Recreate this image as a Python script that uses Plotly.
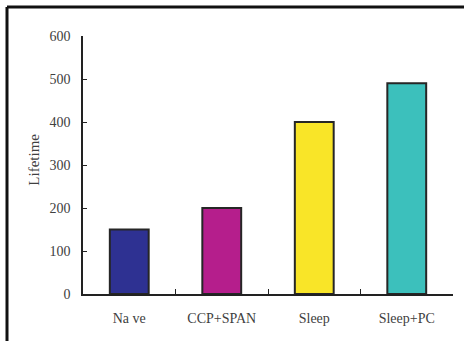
import plotly.graph_objects as go

categories = ["Na ve", "CCP+SPAN", "Sleep", "Sleep+PC"]
lifetime = [150, 200, 400, 490]
bar_colors = ["#2E3192", "#B51E8C", "#F9E528", "#3CC0BC"]
y_ticks = [0, 100, 200, 300, 400, 500, 600]

font_family = "Liberation Serif"
text_color = "#404040"

fig = go.Figure(
    go.Bar(
        x=categories,
        y=lifetime,
        width=0.42,
        marker=dict(color=bar_colors, line=dict(color="#262626", width=2)),
    )
)

fig.update_layout(
    width=464,
    height=341,
    margin=dict(l=83, r=11, t=36, b=47),
    paper_bgcolor="white",
    plot_bgcolor="white",
    showlegend=False,
    font=dict(family=font_family, size=14, color=text_color),
    xaxis=dict(
        showline=True,
        linecolor="#222",
        linewidth=1.5,
        ticks="inside",
        tickson="boundaries",
        ticklen=5,
        tickcolor="#222",
        tickwidth=1,
        showgrid=False,
        ticklabelstandoff=10,
    ),
    yaxis=dict(
        range=[0, 600],
        tickvals=y_ticks,
        showline=True,
        linecolor="#222",
        linewidth=1.5,
        ticks="inside",
        ticklen=4,
        tickcolor="#222",
        tickwidth=1,
        showgrid=False,
        zeroline=False,
        ticklabelstandoff=8,
    ),
    annotations=[
        dict(
            text="Lifetime",
            textangle=-90,
            xref="paper",
            yref="paper",
            x=-0.16,
            y=0.52,
            showarrow=False,
            font=dict(family=font_family, size=15, color=text_color),
        )
    ],
    shapes=[
        # outer frame: left and top edges
        dict(type="line", xref="paper", yref="paper",
             x0=-0.2054, x1=-0.2054, y0=-0.5, y1=1.1124,
             line=dict(color="#111", width=3)),
        dict(type="line", xref="paper", yref="paper",
             x0=-0.2054, x1=1.5, y0=1.1124, y1=1.1124,
             line=dict(color="#111", width=3)),
    ],
)

fig.write_html("out.html")
